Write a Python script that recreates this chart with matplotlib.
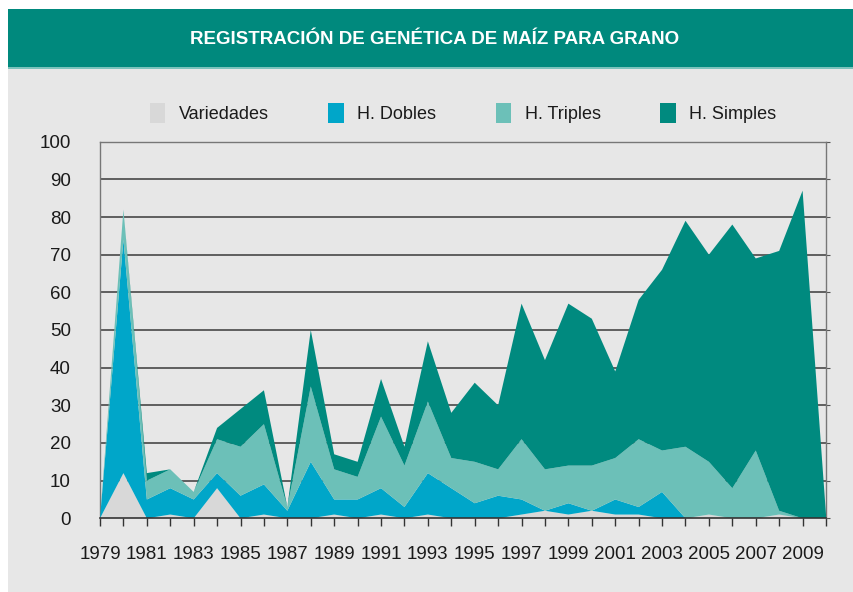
import numpy as np
import matplotlib
matplotlib.use("Agg")
import matplotlib.pyplot as plt
from matplotlib import font_manager
from matplotlib.patches import Rectangle

# --- data ---
years = list(range(1979, 2011))
variedades = [0, 12, 0, 1, 0, 8, 0, 1, 0, 0, 1, 0, 1, 0, 1, 0,
              0, 0, 1, 2, 1, 2, 1, 1, 0, 0, 1, 0, 0, 1, 0, 0]
h_dobles = [0, 62, 5, 7, 5, 4, 6, 8, 2, 15, 4, 5, 7, 3, 11, 8,
            4, 6, 4, 0, 3, 0, 4, 2, 7, 0, 0, 0, 0, 0, 0, 0]
h_triples = [0, 8, 5, 5, 2, 9, 13, 16, 1, 20, 8, 6, 19, 11, 19, 8,
             11, 7, 16, 11, 10, 12, 11, 18, 11, 19, 14, 8, 18, 1, 0, 0]
h_simples = [0, 0, 2, 0, 0, 3, 10, 9, 0, 15, 4, 4, 10, 5, 16, 12,
             21, 17, 36, 29, 43, 39, 23, 37, 48, 60, 55, 70, 51, 69, 87, 1]
labels = ["Variedades", "H. Dobles", "H. Triples", "H. Simples"]
colors = ["#d8d8d8", "#00a6c9", "#6cc0b8", "#008a7f"]
title = "REGISTRACIÓN DE GENÉTICA DE MAÍZ PARA GRANO"

installed = {f.name for f in font_manager.fontManager.ttflist}
narrow = "Liberation Sans Narrow" if "Liberation Sans Narrow" in installed else "Liberation Sans"
plt.rcParams["font.family"] = ["Liberation Sans", "DejaVu Sans"]

W, H = 854, 592
fig = plt.figure(figsize=(W / 100, H / 100), dpi=100, facecolor="white")

# panel background + title banner (behind the axes)
fig.patches.append(Rectangle((8 / W, 0), 1 - 8 / W, 1 - 68 / H, transform=fig.transFigure,
                             facecolor="#e7e7e7", edgecolor="none", zorder=-10))
fig.patches.append(Rectangle((8 / W, 1 - 67 / H), 1 - 8 / W, 58 / H, transform=fig.transFigure,
                             facecolor="#00897d", edgecolor="none", zorder=-10))
fig.patches.append(Rectangle((8 / W, 1 - 68.5 / H), 1 - 8 / W, 1.5 / H, transform=fig.transFigure,
                             facecolor="#7cc3bc", edgecolor="none", zorder=-10))
fig.text(435 / W, 1 - 40 / H, title, color="white", fontsize=13.5, fontweight="bold",
         ha="center", va="center", family=[narrow, "DejaVu Sans"])

ax = fig.add_axes([100 / W, (H - 518.3) / H, 726 / W, 376.6 / H])
ax.set_facecolor("#e7e7e7")
ax.stackplot(years, variedades, h_dobles, h_triples, h_simples,
             labels=labels, colors=colors, linewidth=0, zorder=3)

ax.set_xlim(1979, 2010)
ax.set_ylim(0, 100)
ax.set_yticks(range(0, 101, 10))
ax.set_xticks(years)
ax.set_xticklabels([str(y) if y % 2 == 1 else "" for y in years])
ax.grid(axis="y", color="#3a3a3a", linewidth=1.1, zorder=1)
ax.set_axisbelow(True)

ax.tick_params(axis="x", length=6, width=1, color="#333333", pad=14,
               labelsize=13.5, labelcolor="#1a1a1a")
ax.tick_params(axis="y", which="both", left=False, right=True, length=3,
               color="#555555", pad=18, labelsize=13.5, labelcolor="#1a1a1a")
for side in ["left", "top", "right"]:
    ax.spines[side].set_color("#777777")
    ax.spines[side].set_linewidth(1.0)
ax.spines["bottom"].set_color("#333333")
ax.spines["bottom"].set_linewidth(1.2)
ax.spines["bottom"].set_zorder(4)

leg = fig.legend(*ax.get_legend_handles_labels(), loc="center", ncol=4,
                 bbox_to_anchor=(463 / W, 1 - 113 / H), frameon=False,
                 prop={"family": [narrow, "DejaVu Sans"], "size": 13},
                 handlelength=0.85, handleheight=1.35, handletextpad=0.75,
                 columnspacing=3.3)
for t in leg.get_texts():
    t.set_color("#1a1a1a")

fig.savefig("out.png", dpi=100, facecolor=fig.get_facecolor())
